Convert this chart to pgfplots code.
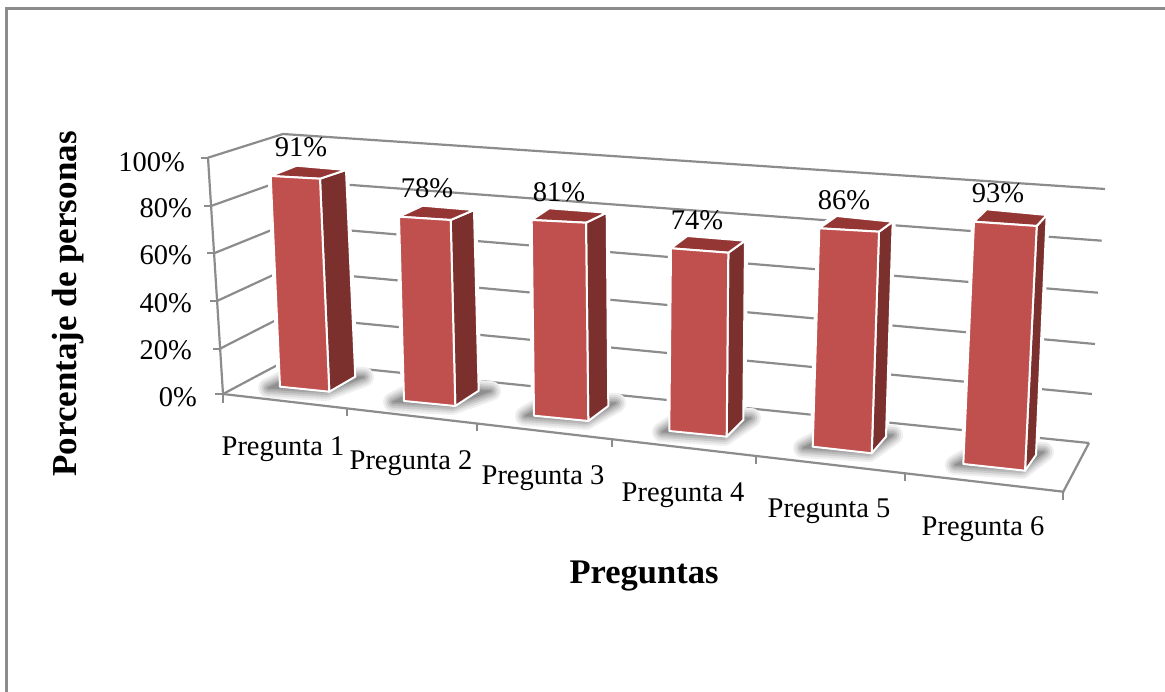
\documentclass[border=0pt]{standalone}
\usepackage{fontspec}
\setmainfont{Liberation Serif}
\usepackage{pgfplots}
\pgfplotsset{compat=1.18}
\definecolor{front}{HTML}{C0504D}
\definecolor{side}{HTML}{7B302E}
\definecolor{topc}{HTML}{943634}
\definecolor{axisgray}{HTML}{8C8C8C}
\newcommand\shadowpoly[1]{%
  \addplot[draw=black!6,fill=black!6,line width=20pt,line join=round] coordinates {#1} -- cycle;
  \addplot[draw=black!12,fill=black!12,line width=16pt,line join=round] coordinates {#1} -- cycle;
  \addplot[draw=black!20,fill=black!20,line width=12pt,line join=round] coordinates {#1} -- cycle;
  \addplot[draw=black!28,fill=black!28,line width=8pt,line join=round] coordinates {#1} -- cycle;
  \addplot[draw=black!36,fill=black!36,line width=4pt,line join=round] coordinates {#1} -- cycle;
  \addplot[draw=black!44,fill=black!44,line width=0.5pt,line join=round] coordinates {#1} -- cycle;
}
% #1 front-top-left, #2 front-top-right, #3 front-bottom-right, #4 front-bottom-left,
% #5 back-top-right, #6 back-bottom-right, #7 back-top-left
\newcommand\halo[7]{%
  \addplot[draw=white,line width=6pt,line join=round,fill=white] coordinates {(#1) (#7) (#5) (#6) (#3) (#4)} -- cycle;
}
\newcommand\drawbar[7]{%
  \addplot[fill=side,draw=white,line width=2pt,line join=round] coordinates {(#2) (#5) (#6) (#3)} -- cycle;
  \addplot[fill=topc,draw=white,line width=2pt,line join=round] coordinates {(#1) (#7) (#5) (#2)} -- cycle;
  \addplot[fill=front,draw=white,line width=2pt,line join=round] coordinates {(#1) (#2) (#3) (#4)} -- cycle;
}
\begin{document}
\begin{tikzpicture}
\begin{axis}[
  hide axis, scale only axis,
  width=1165pt, height=692pt,
  xmin=0, xmax=1165, ymin=0, ymax=692,
  y dir=reverse,
  every axis plot/.append style={mark=none},
  tick style={draw=none},
]
\path (axis cs:0,0) rectangle (axis cs:1165,692);
% frame
\addplot[draw=axisgray,line width=3pt] coordinates {(6,692) (6,9) (1165,9)};
% back wall grid lines (100, 80, 60, 40, 20, 0 %)
\addplot[draw=axisgray,line width=2.2pt] coordinates {(208,157.7) (283,134) (1105,189)};
\addplot[draw=axisgray,line width=2.2pt] coordinates {(211,206) (284,180) (1101.7,240.7)};
\addplot[draw=axisgray,line width=2.2pt] coordinates {(214,253.3) (284,225) (1098,292.7)};
\addplot[draw=axisgray,line width=2.2pt] coordinates {(217,301) (284,270) (1095,344)};
\addplot[draw=axisgray,line width=2.2pt] coordinates {(220,348.7) (284,316) (1092,394)};
\addplot[draw=axisgray,line width=2.2pt] coordinates {(223,394) (285,361) (1089,443)};
% value axis and ticks
\addplot[draw=axisgray,line width=2.2pt] coordinates {(208,157.7) (223,394)};
\addplot[draw=axisgray,line width=2.2pt] coordinates {(201,157.7) (208,157.7)};
\addplot[draw=axisgray,line width=2.2pt] coordinates {(204,206) (211,206)};
\addplot[draw=axisgray,line width=2.2pt] coordinates {(207,253.3) (214,253.3)};
\addplot[draw=axisgray,line width=2.2pt] coordinates {(210,301) (217,301)};
\addplot[draw=axisgray,line width=2.2pt] coordinates {(213,348.7) (220,348.7)};
\addplot[draw=axisgray,line width=2.2pt] coordinates {(215,394) (223,394)};
% halos that interrupt the grid lines
\halo{270.7,176}{320,178.7}{329.3,391.7}{280,386.7}{346,170}{355.3,376.7}{296.7,165.7}
\halo{399,216.7}{450.7,220}{455.3,406}{404,401}{474,210}{478.7,390.7}{422.7,205.7}
\halo{531.7,220}{586,222.7}{588.3,421}{534,415.7}{606.7,212.7}{608.3,406}{549.3,208.3}
\halo{671,248.3}{728.3,252.7}{726.7,436.7}{669.3,431}{745,240.7}{743.3,420}{687.3,236}
\halo{819.3,228.3}{879,231.7}{871.7,453.3}{812.7,446.7}{892.7,221.7}{886,436.7}{836.7,216}
\halo{974,221.7}{1036.7,226}{1025,470.7}{963.3,464}{1046.7,215}{1036,455}{986.7,209.3}
% shadows
\shadowpoly{(268,388) (326,391) (364,377) (300,372)}
\shadowpoly{(393,402) (452,405) (491,391) (425,386)}
\shadowpoly{(525,416) (586,420) (616,403) (550,401)}
\shadowpoly{(662,432) (724,436) (751,418) (690,414)}
\shadowpoly{(803,448) (869,452) (893,435) (835,431)}
\shadowpoly{(955,465) (1022,469) (1044,452) (985,448)}
% floor
\addplot[draw=axisgray,line width=2.2pt] coordinates {(223,394) (1063.3,491.7) (1089,443)};
% category ticks
\addplot[draw=axisgray,line width=2.2pt] coordinates {(223,394) (223,403)};
\addplot[draw=axisgray,line width=2.2pt] coordinates {(346.7,408.4) (346.7,416.4)};
\addplot[draw=axisgray,line width=2.2pt] coordinates {(476.7,423.5) (476.7,431.5)};
\addplot[draw=axisgray,line width=2.2pt] coordinates {(611.7,439.2) (611.7,447.2)};
\addplot[draw=axisgray,line width=2.2pt] coordinates {(755.7,456) (755.7,464)};
\addplot[draw=axisgray,line width=2.2pt] coordinates {(905,473.3) (905,481.3)};
\addplot[draw=axisgray,line width=2.2pt] coordinates {(1063.3,491.7) (1063.3,500)};
% bars (91, 78, 81, 74, 86, 93 %)
\drawbar{270.7,176}{320,178.7}{329.3,391.7}{280,386.7}{346,170}{355.3,376.7}{296.7,165.7}
\drawbar{399,216.7}{450.7,220}{455.3,406}{404,401}{474,210}{478.7,390.7}{422.7,205.7}
\drawbar{531.7,220}{586,222.7}{588.3,421}{534,415.7}{606.7,212.7}{608.3,406}{549.3,208.3}
\drawbar{671,248.3}{728.3,252.7}{726.7,436.7}{669.3,431}{745,240.7}{743.3,420}{687.3,236}
\drawbar{819.3,228.3}{879,231.7}{871.7,453.3}{812.7,446.7}{892.7,221.7}{886,436.7}{836.7,216}
\drawbar{974,221.7}{1036.7,226}{1025,470.7}{963.3,464}{1046.7,215}{1036,455}{986.7,209.3}
% value labels
\begin{scope}[every node/.style={font=\fontsize{28.5}{32}\selectfont,inner sep=0pt,text=black}]
\node at (axis cs:301,147) {91\%};
\node at (axis cs:427,188) {78\%};
\node at (axis cs:559,192) {81\%};
\node at (axis cs:697,220) {74\%};
\node at (axis cs:844,200) {86\%};
\node at (axis cs:998,193) {93\%};
\node[anchor=east] at (axis cs:185,162) {100\%};
\node[anchor=east] at (axis cs:192,208) {80\%};
\node[anchor=east] at (axis cs:192,255) {60\%};
\node[anchor=east] at (axis cs:192,303) {40\%};
\node[anchor=east] at (axis cs:192,350) {20\%};
\node[anchor=east] at (axis cs:197,397) {0\%};
\node at (axis cs:283,449) {Pregunta 1};
\node at (axis cs:411,463) {Pregunta 2};
\node at (axis cs:543,478) {Pregunta 3};
\node at (axis cs:683,495) {Pregunta 4};
\node at (axis cs:829,511) {Pregunta 5};
\node at (axis cs:983,529) {Pregunta 6};
\node[font=\fontsize{34.5}{38}\selectfont\bfseries] at (axis cs:644,576) {Preguntas};
\node[font=\fontsize{35}{38}\selectfont\bfseries,rotate=90] at (axis cs:68,304) {Porcentaje de personas};
\end{scope}
\end{axis}
\end{tikzpicture}
\end{document}
